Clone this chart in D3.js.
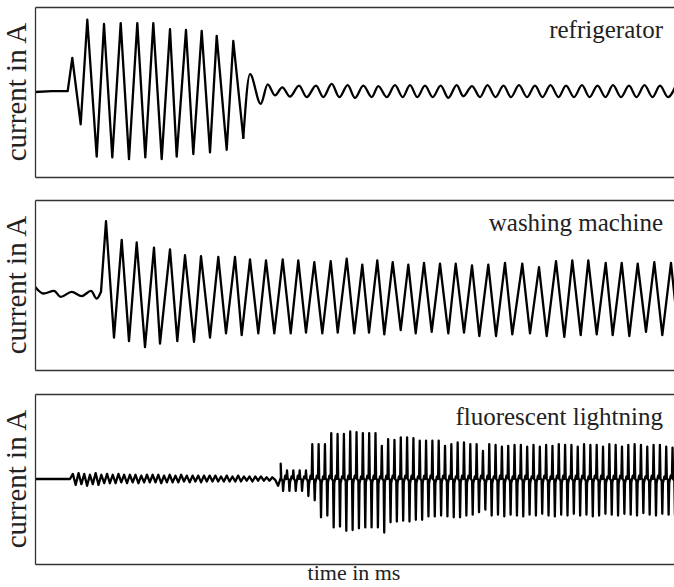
<!DOCTYPE html>
<html>
<head>
<meta charset="utf-8">
<script src="https://cdn.jsdelivr.net/npm/d3@7"></script>
<style>
  html, body { margin: 0; padding: 0; background: #fff; }
  svg { display: block; }
  text { font-family: "Liberation Serif", "DejaVu Serif", serif; fill: #222; }
</style>
</head>
<body>
<svg id="chart" width="674" height="587"></svg>
<script>
// ---------------------------------------------------------------------------
// Current traces (time in ms, current in A) for three household appliances.
// ---------------------------------------------------------------------------

const panelNames = ["refrigerator", "washing machine", "fluorescent lightning"];

// Refrigerator: compressor start-up surge (sharp peaks), then the steady ripple.
const fridgeSurgeT = [0, 17, 32.7, 37.3, 45.7, 52.3, 61.7, 69, 77.3, 85.7, 94, 102.3, 110.3,
  118.3, 126.7, 135, 141.7, 151, 158.3, 166.7, 175, 181.7, 191.7, 198.3, 208.3];
const fridgeSurgeA = [0, 0.01, 0.01, 0.40, -0.38, 0.85, -0.76, 0.80, -0.77, 0.81, -0.79, 0.81, -0.77,
  0.81, -0.79, 0.74, -0.76, 0.73, -0.73, 0.72, -0.71, 0.66, -0.68, 0.60, -0.54];
const fridgeSteadyT = [208.3, 215, 225.7, 232.7, 240, 247.3, 255, 264, 271.7, 281, 288.3, 296.7,
  304.3, 312.7, 320, 328.3, 336.7, 343.3, 351.7, 360, 367.7, 375, 382.3, 390, 397.7, 405.7,
  413.3, 421.7, 428.3, 437, 445, 452.5, 460.5, 468.5, 476, 484, 492, 500, 507.5, 515.5,
  523.5, 531, 539, 547, 554.5, 562.5, 570.5, 578, 586, 594, 601.5, 609.5, 617.5, 625, 633, 641];
const fridgeSteadyA = [-0.54, 0.21, -0.14, 0.09, -0.04, 0.055, -0.055, 0.075, -0.06, 0.075, -0.06, 0.095,
  -0.06, 0.08, -0.07, 0.075, -0.06, 0.07, -0.06, 0.08, -0.06, 0.08, -0.06, 0.075, -0.06, 0.075,
  -0.07, 0.08, -0.05, 0.07, -0.06, 0.08, -0.06, 0.075, -0.06, 0.08, -0.06, 0.075, -0.06, 0.08,
  -0.06, 0.075, -0.06, 0.08, -0.06, 0.075, -0.06, 0.08, -0.06, 0.075, -0.06, 0.08, -0.06, 0.075, -0.06, 0.08];

// Washing machine: idle ripple, then the motor current.
const washerIdleT = [0, 8.3, 19, 25.7, 36.7, 46.7, 56, 61.7, 66];
const washerIdleA = [-0.02, -0.10, -0.07, -0.14, -0.08, -0.13, -0.07, -0.16, -0.08];
const washerRunT = [66, 71, 79, 86.7, 94, 101.7, 110, 119, 125, 135, 142.3, 150, 159, 166, 175,
  183.3, 191, 200, 206.7, 215, 223.3, 231, 239.3, 247.7, 255.7, 263.3, 271, 279.3, 287.3,
  295.7, 302.7, 311.7, 319.3, 327.3, 334, 342.3, 349.3, 357.7, 365.7, 373.3, 380.7, 389,
  396.7, 405, 413.3, 420.7, 429, 437, 444.3, 453.3, 461, 470, 477.3, 487.3, 495, 504,
  511.7, 521, 529.3, 537.3, 545.7, 553.3, 561.7, 570.7, 577.7, 586.7, 594.3, 602.7, 611,
  619.3, 627.3, 636, 643.5];
const washerRunA = [-0.08, 0.75, -0.62, 0.53, -0.66, 0.50, -0.73, 0.44, -0.69, 0.42, -0.66, 0.35,
  -0.67, 0.34, -0.62, 0.33, -0.57, 0.33, -0.59, 0.30, -0.57, 0.29, -0.57, 0.30, -0.57, 0.29,
  -0.56, 0.27, -0.57, 0.28, -0.56, 0.31, -0.57, 0.24, -0.56, 0.29, -0.58, 0.27, -0.53, 0.24,
  -0.57, 0.26, -0.55, 0.25, -0.57, 0.25, -0.56, 0.23, -0.60, 0.24, -0.60, 0.26, -0.58, 0.25,
  -0.57, 0.21, -0.60, 0.28, -0.61, 0.29, -0.59, 0.29, -0.58, 0.26, -0.59, 0.26, -0.60, 0.25,
  -0.55, 0.27, -0.59, 0.26, -0.58];

// Fluorescent lighting: pre-ignition ripple sampled every lampStep ms.
const lampFlatT = [0, 35];
const lampFlatA = [0, 0];
const lampRippleStart = 35, lampStep = 2.85;
const lampRippleA = [0, 0.06, -0.07, 0.07, -0.06, 0.06, -0.08, 0.05, -0.06, 0.07, -0.07, 0.05, -0.05,
  0.06, -0.05, 0.05, -0.05, 0.06, -0.04, 0.05, -0.05, 0.05, -0.04, 0.05, -0.05, 0.04, -0.04,
  0.05, -0.04, 0.05, -0.04, 0.05, -0.05, 0.04, -0.04, 0.05, -0.04, 0.04, -0.04, 0.05, -0.03,
  0.04, -0.04, 0.04, -0.03, 0.04, -0.04, 0.04, -0.03, 0.04, -0.03, 0.04, -0.03, 0.03, -0.03,
  0.04, -0.03, 0.03, -0.03, 0.04, -0.03, 0.03, -0.02, 0.03, -0.03, 0.03, -0.02, 0.03, -0.02,
  0.02, -0.02, 0.02, -0.01, -0.08, 0.02];

// After ignition: every cycle is a narrow positive spike, a narrow negative
// spike and a small wiggle near zero.  Sample offsets within a cycle (ms):
const lampCycleStart = 245.7, lampCycleLen = 6.32;
const lampPhase = { top: 0, centreA: 0.6, centreB: 1.8, bottom: 2.4, low: 3.0, high: 4.5, centreC: 5.7 };
const lampTop = [0.18, 0.10, 0.10, 0.10, 0.10, 0.41, 0.41, 0.41, 0.54, 0.53, 0.53, 0.56, 0.55,
  0.54, 0.54, 0.54, 0.39, 0.47, 0.46, 0.49, 0.49, 0.48, 0.45, 0.45, 0.45, 0.45, 0.39, 0.41,
  0.43, 0.43, 0.41, 0.41, 0.33, 0.41, 0.40, 0.38, 0.39, 0.40, 0.40, 0.38, 0.40, 0.38, 0.40,
  0.39, 0.41, 0.40, 0.40, 0.38, 0.41, 0.40, 0.40, 0.38, 0.41, 0.40, 0.38, 0.40, 0.41, 0.40,
  0.38, 0.40, 0.40, 0.38, 0.37];
const lampCentre = [0.00, 0.01, 0.00, 0.01, 0.00, 0.01, 0.00, 0.01, 0.00, 0.01, 0.00, 0.01, 0.00,
  0.01, 0.00, 0.01, 0.00, 0.01, 0.00, 0.01, 0.00, 0.01, 0.00, 0.01, 0.00, 0.01, 0.00, 0.01,
  0.00, 0.01, 0.00, 0.01, 0.00, 0.01, 0.00, 0.01, 0.00, 0.01, 0.00, 0.01, 0.00, 0.01, 0.00,
  0.01, 0.00, 0.01, 0.00, 0.01, 0.00, 0.01, 0.00, 0.01, 0.00, 0.01, 0.00, 0.01, 0.00, 0.01,
  0.00, 0.01, 0.00, 0.01, 0.00];
const lampBottom = [-0.14, -0.14, -0.14, -0.14, -0.20, -0.25, -0.45, -0.43, -0.57, -0.56, -0.61,
  -0.60, -0.58, -0.57, -0.57, -0.57, -0.63, -0.51, -0.50, -0.49, -0.50, -0.48, -0.48, -0.44,
  -0.44, -0.43, -0.44, -0.45, -0.45, -0.43, -0.42, -0.39, -0.36, -0.43, -0.42, -0.44, -0.42,
  -0.43, -0.44, -0.42, -0.43, -0.41, -0.43, -0.44, -0.42, -0.43, -0.41, -0.43, -0.42, -0.44,
  -0.43, -0.41, -0.42, -0.43, -0.41, -0.42, -0.43, -0.40, -0.42, -0.43, -0.41, -0.42, -0.42];
const lampLow = [-0.05, -0.04, -0.05, -0.04, -0.06, -0.05, -0.05, -0.04, -0.05, -0.05, -0.04,
  -0.05, -0.05, -0.04, -0.05, -0.05, -0.04, -0.05, -0.05, -0.04, -0.05, -0.05, -0.04, -0.05,
  -0.05, -0.04, -0.05, -0.05, -0.04, -0.05, -0.05, -0.04, -0.05, -0.05, -0.04, -0.05, -0.05,
  -0.04, -0.05, -0.05, -0.04, -0.05, -0.05, -0.04, -0.05, -0.05, -0.04, -0.05, -0.05, -0.04,
  -0.05, -0.05, -0.04, -0.05, -0.05, -0.04, -0.05, -0.05, -0.04, -0.05, -0.05, -0.04, -0.05];
const lampHigh = [0.04, 0.03, 0.04, 0.03, 0.04, 0.04, 0.03, 0.04, 0.04, 0.03, 0.04, 0.04, 0.03,
  0.04, 0.04, 0.03, 0.04, 0.04, 0.03, 0.04, 0.04, 0.03, 0.04, 0.04, 0.03, 0.04, 0.04, 0.03,
  0.04, 0.04, 0.03, 0.04, 0.04, 0.03, 0.04, 0.04, 0.03, 0.04, 0.04, 0.03, 0.04, 0.04, 0.03,
  0.04, 0.04, 0.03, 0.04, 0.04, 0.03, 0.04, 0.04, 0.03, 0.04, 0.04, 0.03, 0.04, 0.04, 0.03,
  0.04, 0.04, 0.03, 0.04, 0.04];

const yLabel = "current in A";
const xLabel = "time in ms";

// ---------------------------------------------------------------------------
const svg = d3.select("#chart");
const plotLeft = 35, plotRight = 675;
const panelTops = [7, 200, 394], panelH = 170;

const x = d3.scaleLinear().domain([0, 640]).range([plotLeft, plotRight]);

const zip = (ts, as) => ts.map((t, i) => [t, as[i]]);

// lamp trace, expanded sample by sample
const lampRipple = lampRippleA.map((a, i) => [lampRippleStart + i * lampStep, a]);
const lampCycles = [];
lampTop.forEach((top, k) => {
  const t0 = lampCycleStart + k * lampCycleLen;
  lampCycles.push(
    [t0 + lampPhase.top, top],
    [t0 + lampPhase.centreA, lampCentre[k]],
    [t0 + lampPhase.centreB, lampCentre[k] - 0.02],
    [t0 + lampPhase.bottom, lampBottom[k]],
    [t0 + lampPhase.low, lampLow[k]],
    [t0 + lampPhase.high, lampHigh[k]],
    [t0 + lampPhase.centreC, lampCentre[k]]);
});

const panels = [
  { segments: [
      { pts: zip(fridgeSurgeT, fridgeSurgeA), curve: d3.curveLinear },
      { pts: zip(fridgeSteadyT, fridgeSteadyA), curve: d3.curveMonotoneX } ] },
  { segments: [
      { pts: zip(washerIdleT, washerIdleA), curve: d3.curveMonotoneX },
      { pts: zip(washerRunT, washerRunA), curve: d3.curveLinear } ] },
  { segments: [
      { pts: zip(lampFlatT, lampFlatA).concat(lampRipple, lampCycles), curve: d3.curveLinear } ] }
];

panels.forEach((p, i) => {
  const top = panelTops[i];
  const y = d3.scaleLinear().domain([-1, 1]).range([top + panelH, top]);
  const g = svg.append("g");

  const clipId = "clip" + i;
  svg.append("clipPath").attr("id", clipId)
    .append("rect").attr("x", plotLeft).attr("y", top)
    .attr("width", plotRight - plotLeft).attr("height", panelH);

  const lines = g.append("g").attr("clip-path", `url(#${clipId})`);
  p.segments.forEach(seg => {
    const line = d3.line().x(d => x(d[0])).y(d => y(d[1])).curve(seg.curve);
    lines.append("path")
      .attr("d", line(seg.pts))
      .attr("fill", "none")
      .attr("stroke", "#000")
      .attr("stroke-width", 2.3)
      .attr("stroke-linejoin", "round")
      .attr("stroke-linecap", "round");
  });

  // frame: axes without ticks
  const frame = [
    g.append("g").attr("transform", `translate(0,${top})`).call(d3.axisTop(x).tickValues([]).tickSizeOuter(0)),
    g.append("g").attr("transform", `translate(0,${top + panelH})`).call(d3.axisBottom(x).tickValues([]).tickSizeOuter(0)),
    g.append("g").attr("transform", `translate(${plotLeft},0)`).call(d3.axisLeft(y).tickValues([]).tickSizeOuter(0)),
    g.append("g").attr("transform", `translate(${plotRight},0)`).call(d3.axisRight(y).tickValues([]).tickSizeOuter(0))
  ];
  frame.forEach(a => a.select(".domain").attr("stroke", "#333").attr("stroke-width", 1.3));

  g.append("text")
    .attr("x", 663).attr("y", top + 30.5)
    .attr("text-anchor", "end")
    .attr("font-size", 25)
    .text(panelNames[i]);

  g.append("text")
    .attr("transform", `translate(26,${top + panelH / 2}) rotate(-90)`)
    .attr("text-anchor", "middle")
    .attr("font-size", 29)
    .text(yLabel);
});

svg.append("text")
  .attr("x", (plotLeft + 673) / 2).attr("y", 580)
  .attr("text-anchor", "middle")
  .attr("font-size", 22)
  .text(xLabel);
</script>
</body>
</html>
